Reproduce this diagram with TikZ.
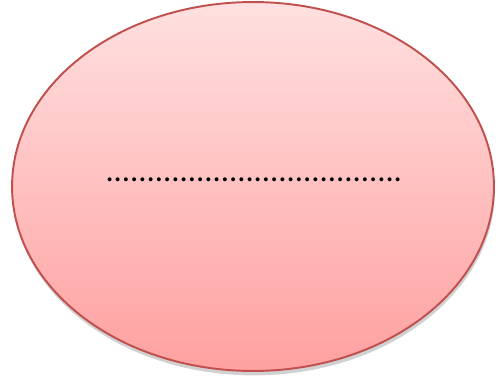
\documentclass[tikz,border=0pt]{standalone}
\usepackage{fontspec}
\setmainfont{Carlito}
\usetikzlibrary{shapes.geometric,shadows}
\definecolor{ovrim}{HTML}{C0504D}
\definecolor{ovtop}{HTML}{FFE0E0}
\definecolor{ovbot}{HTML}{FFA0A0}

\begin{document}
\begin{tikzpicture}[x=0.02cm,y=-0.02cm,
  oval/.style={ellipse,draw=ovrim,line width=1.1pt,top color=ovtop,bottom color=ovbot,
               minimum width=9.64cm,minimum height=7.38cm,inner sep=0pt,
               drop shadow={shadow xshift=0.5pt,shadow yshift=-2.5pt,opacity=0.3,fill=black!60}},
  dots/.style={font=\fontsize{18.6}{22}\selectfont,inner sep=0pt,anchor=base}]

\useasboundingbox (0,0) rectangle (499,378);

% ---------------- shape and its placeholder --------------------------------
\node[oval] (shape) at (253,186.5) {};
\node[dots] (blank) at (254,181.5) {....................................};

\end{tikzpicture}
\end{document}
